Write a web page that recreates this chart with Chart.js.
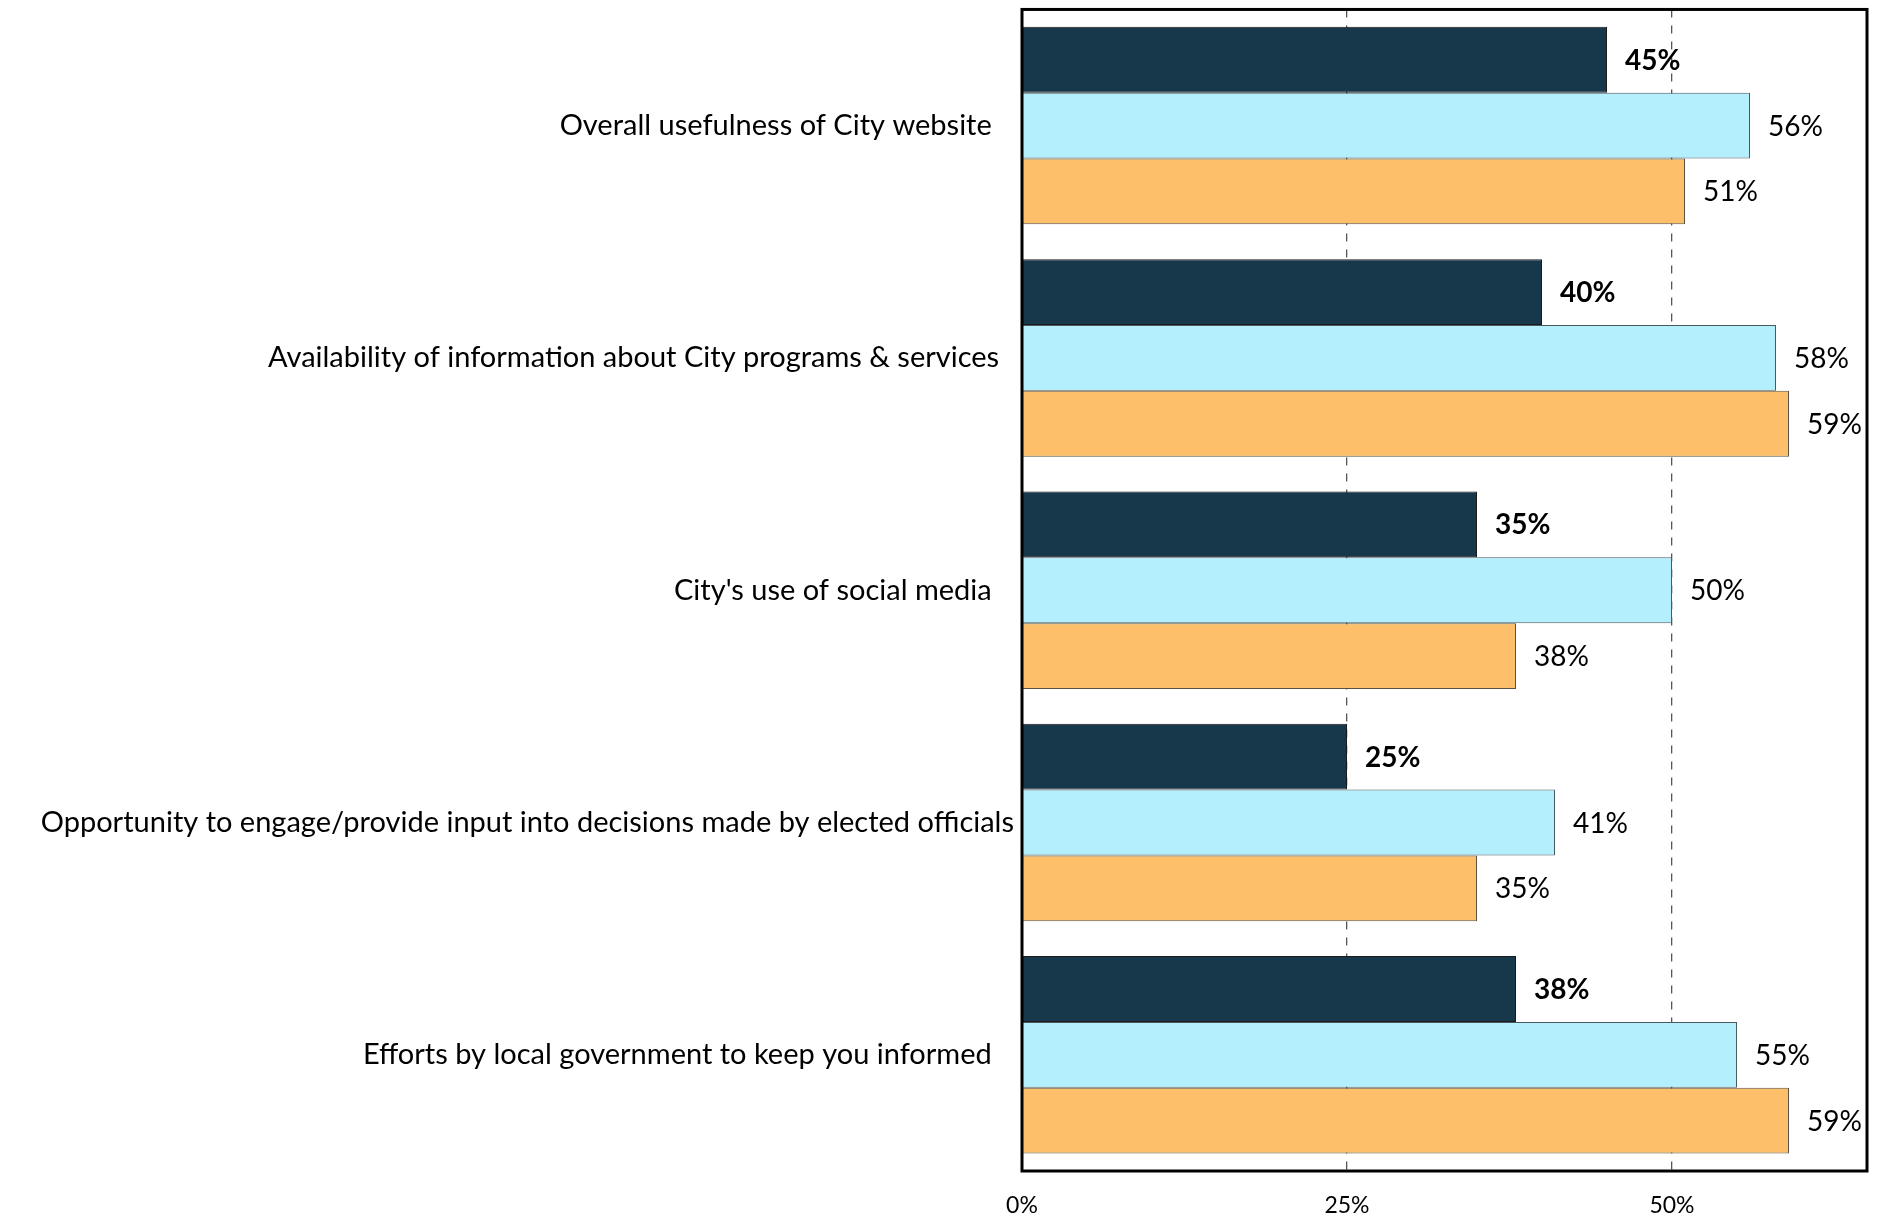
<!DOCTYPE html>
<html>
<head>
<meta charset="utf-8">
<script src="https://cdn.jsdelivr.net/npm/chart.js@4.4.1/dist/chart.umd.min.js"></script>
<style>
  html, body { margin: 0; padding: 0; background: #fff; }
  #wrap { width: 1883px; height: 1219px; }
</style>
</head>
<body>
<div id="wrap"><canvas id="chart" width="1883" height="1219"></canvas></div>
<script>
var categories = [
  "Overall usefulness of City website   ",
  "Availability of information about City programs & services  ",
  "City's use of social media   ",
  "Opportunity to engage/provide input into decisions made by elected officials",
  "Efforts by local government to keep you informed   "
];
var series2021 = [45, 40, 35, 25, 38];
var series2019 = [56, 58, 50, 41, 55];
var series2017 = [51, 59, 38, 35, 59];
var xTicks = [0, 25, 50];

var FONT = "Lato";

// value labels to the right of each bar
var valueLabels = {
  id: "valueLabels",
  afterDatasetsDraw: function(chart) {
    var ctx = chart.ctx;
    chart.data.datasets.forEach(function(ds, i) {
      var meta = chart.getDatasetMeta(i);
      meta.data.forEach(function(bar, j) {
        ctx.save();
        ctx.font = (i === 0 ? "bold " : "") + "28px " + FONT;
        ctx.fillStyle = "#000";
        ctx.textAlign = "left";
        ctx.textBaseline = "middle";
        ctx.fillText(ds.data[j] + "%", bar.x + 18, bar.y + 1);
        ctx.restore();
      });
    });
  }
};

// black frame around the plot area
var frame = {
  id: "frame",
  afterDraw: function(chart) {
    var a = chart.chartArea, ctx = chart.ctx;
    ctx.save();
    ctx.strokeStyle = "#000";
    ctx.lineWidth = 3;
    ctx.strokeRect(a.left, a.top, a.right - a.left, a.bottom - a.top);
    ctx.restore();
  }
};

new Chart(document.getElementById("chart").getContext("2d"), {
  type: "bar",
  data: {
    labels: categories,
    datasets: [
      { data: series2021, backgroundColor: "#17374b", borderColor: "#1a1a1a", borderWidth: 1 },
      { data: series2019, backgroundColor: "#b3effd", borderColor: "#4a5960", borderWidth: 1 },
      { data: series2017, backgroundColor: "#fdbf69", borderColor: "#5a5040", borderWidth: 1 }
    ]
  },
  options: {
    indexAxis: "y",
    responsive: false,
    animation: false,
    devicePixelRatio: 1,
    layout: { padding: { top: 4, right: 16, left: 0, bottom: 0 } },
    plugins: { legend: { display: false }, tooltip: { enabled: false } },
    datasets: { bar: { categoryPercentage: 0.85, barPercentage: 1.0 } },
    scales: {
      x: {
        min: 0, max: 65,
        afterBuildTicks: function(axis) {
          axis.ticks = xTicks.map(function(v) { return { value: v }; });
        },
        afterFit: function(axis) { axis.height = 48; },
        grid: {
          drawTicks: false,
          color: function(c) { return (c.tick && c.tick.value > 0) ? "#555" : "rgba(0,0,0,0)"; },
          lineWidth: 1.3
        },
        border: { display: false, dash: [8, 8] },
        ticks: {
          padding: 33,
          color: "#000",
          font: { family: FONT, size: 23, lineHeight: 0.1 },
          callback: function(v) { return v + "%"; }
        }
      },
      y: {
        afterFit: function(axis) { axis.width = 1022; },
        border: { display: false },
        grid: { display: false, drawTicks: false },
        ticks: {
          padding: 8,
          color: "#000",
          font: { family: FONT, size: 29, lineHeight: 0.1 }
        }
      }
    }
  },
  plugins: [valueLabels, frame]
});
</script>
</body>
</html>
